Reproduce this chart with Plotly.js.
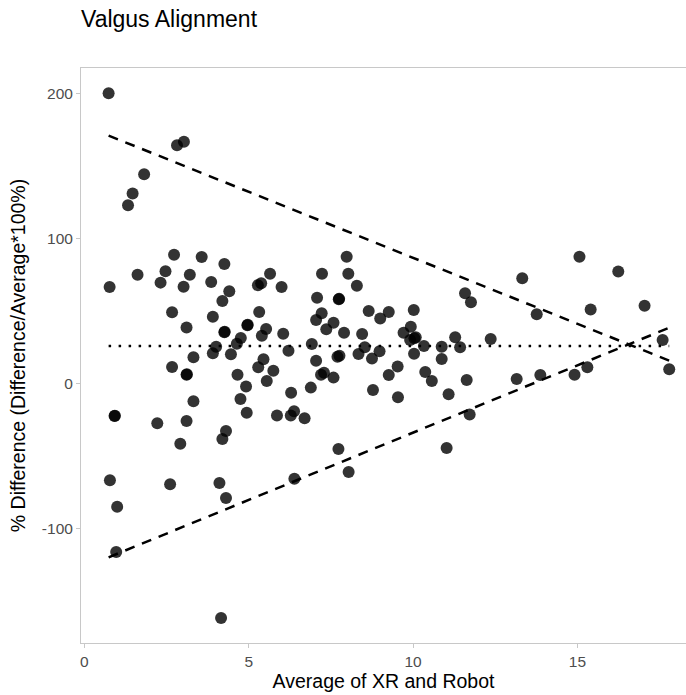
<!DOCTYPE html>
<html>
<head>
<meta charset="utf-8">
<script src="https://cdn.plot.ly/plotly-3.0.1.min.js"></script>
<style>html,body{margin:0;padding:0;background:#fff;}#chart{width:686px;height:695px;}</style>
</head>
<body>
<div id="chart"></div>
<script>
// Average of XR and Robot (x) and % difference (y)
const avgXR = [
  0.74, 2.82, 3.03, 1.82, 1.47, 1.33, 0.77, 1.62, 2.73, 2.47,
  2.32, 3.02, 3.21, 3.57, 3.86, 4.26, 4.41, 4.20, 2.67, 3.91,
  3.11, 4.96, 4.26, 4.76, 4.64, 4.01, 3.91, 4.46, 3.32, 2.67,
  3.11, 4.66, 7.98, 5.65, 7.23, 8.03, 5.28, 5.38, 6.00, 8.29,
  7.08, 7.74, 5.32, 8.65, 7.22, 7.05, 9.00, 9.26, 5.53, 5.40,
  6.05, 7.36, 7.58, 7.90, 8.45, 9.71, 6.21, 6.92, 8.53, 8.34,
  8.98, 8.75, 7.05, 7.70, 7.76, 5.45, 5.29, 5.75, 7.20, 7.29,
  9.53, 9.26, 7.58, 4.92, 4.75, 4.94, 3.32, 0.92, 2.22, 3.11,
  2.92, 4.31, 4.20, 0.78, 2.61, 4.11, 4.31, 1.00, 5.55, 6.29,
  6.89, 5.86, 6.28, 6.38, 6.70, 8.78, 9.54, 7.73, 8.04, 6.39,
  15.06, 16.24, 13.32, 11.58, 11.76, 17.04, 10.02, 15.40, 13.76, 9.93,
  10.04, 9.91, 10.33, 10.87, 11.28, 11.43, 12.36, 10.03, 10.87, 17.59,
  17.79, 10.37, 10.57, 11.63, 11.08, 13.15, 13.87, 14.91, 15.30, 11.72,
  11.02, 0.97, 4.16, 0.93, 3.12, 7.75, 4.27, 4.97, 10.08
];
const pctDiff = [
  200.0, 164.1, 166.6, 144.1, 130.8, 122.8, 66.4, 74.9, 88.7, 77.2,
  69.4, 66.6, 74.9, 87.1, 69.9, 82.3, 63.4, 56.8, 49.0, 45.9,
  38.4, 40.0, 35.2, 31.2, 27.3, 25.2, 20.7, 20.0, 17.9, 11.2,
  5.9, 5.9, 87.3, 75.6, 75.6, 75.6, 67.6, 69.0, 66.4, 67.3,
  59.0, 57.9, 49.2, 49.9, 48.3, 43.7, 44.6, 49.2, 37.4, 32.8,
  34.2, 37.2, 41.8, 34.9, 34.0, 34.9, 22.5, 27.1, 24.8, 20.2,
  22.1, 17.0, 15.6, 18.3, 19.0, 16.6, 11.0, 8.7, 5.9, 7.3,
  11.5, 5.7, 3.9, -2.3, -10.8, -20.3, -12.4, -22.6, -27.6, -26.0,
  -41.7, -32.9, -38.4, -66.9, -69.7, -68.8, -79.1, -85.1, 1.6, -6.5,
  -3.0, -22.3, -22.3, -19.3, -24.1, -4.6, -9.7, -45.3, -61.2, -65.8,
  87.3, 77.0, 72.4, 62.1, 55.9, 53.5, 50.6, 50.8, 47.6, 39.0,
  31.0, 29.9, 25.7, 25.2, 31.7, 24.8, 30.6, 20.4, 16.8, 29.9,
  9.6, 7.8, 1.6, 2.3, -7.6, 3.0, 5.7, 5.9, 11.0, -21.6,
  -44.6, -116.3, -161.9, -22.4, 6.2, 58.2, 35.5, 40.3, 31.8
];
// Mean bias and proportional limits of agreement (line end values)
const lineX = [0.74, 17.79];
const meanY = [25.7, 25.7];
const upperY = [170.8, 15.6];
const lowerY = [-120.0, 38.3];
const xTicks = [0, 5, 10, 15];
const yTicks = [-100, 0, 100, 200];

const traces = [
  {x: avgXR, y: pctDiff, type: 'scatter', mode: 'markers',
   marker: {size: 12, color: 'rgba(0,0,0,0.8)', line: {width: 0}}, hoverinfo: 'x+y'},
  {x: lineX, y: meanY, type: 'scatter', mode: 'lines',
   line: {color: '#000', width: 2.5, dash: '2.5px,7.5px'}},
  {x: lineX, y: upperY, type: 'scatter', mode: 'lines',
   line: {color: '#000', width: 2.5, dash: '10px,8px'}},
  {x: lineX, y: lowerY, type: 'scatter', mode: 'lines',
   line: {color: '#000', width: 2.5, dash: '10px,8px'}}
];

const FAM = 'Liberation Sans, Arial, sans-serif';
const axisFont = {family: FAM, size: 15.5, color: '#4d4d4d'};
const layout = {
  width: 686, height: 695,
  margin: {l: 81, r: 0, t: 68, b: 52},
  paper_bgcolor: '#fff', plot_bgcolor: '#fff',
  showlegend: false,
  font: {family: FAM, color: '#000'},
  title: {text: 'Valgus Alignment', xref: 'paper', x: 0, xanchor: 'left',
          yref: 'container', y: 1 - 19/695, yanchor: 'middle',
          font: {size: 23, color: '#000', family: FAM}},
  xaxis: {
    range: [-0.1, 18.3], tickvals: xTicks, ticktext: xTicks.map(String),
    showgrid: false, zeroline: false,
    showline: true, linecolor: '#c8c8c8', linewidth: 1, mirror: true,
    ticks: 'outside', ticklen: 4, tickcolor: '#c8c8c8', tickfont: axisFont,
    title: {text: 'Average of XR and Robot', standoff: 3,
            font: {size: 19.5, color: '#000'}}
  },
  yaxis: {
    range: [-179.1, 217.4], tickvals: yTicks, ticktext: yTicks.map(String),
    showgrid: false, zeroline: false,
    showline: true, linecolor: '#c8c8c8', linewidth: 1,
    ticks: 'outside', ticklen: 4, tickcolor: '#c8c8c8', tickfont: axisFont,
    title: {text: '% Difference (Difference/Average*100%)', standoff: 11,
            font: {size: 19.5, color: '#000'}}
  }
};
Plotly.newPlot('chart', traces, layout, {displayModeBar: false, staticPlot: true});
</script>
</body>
</html>
